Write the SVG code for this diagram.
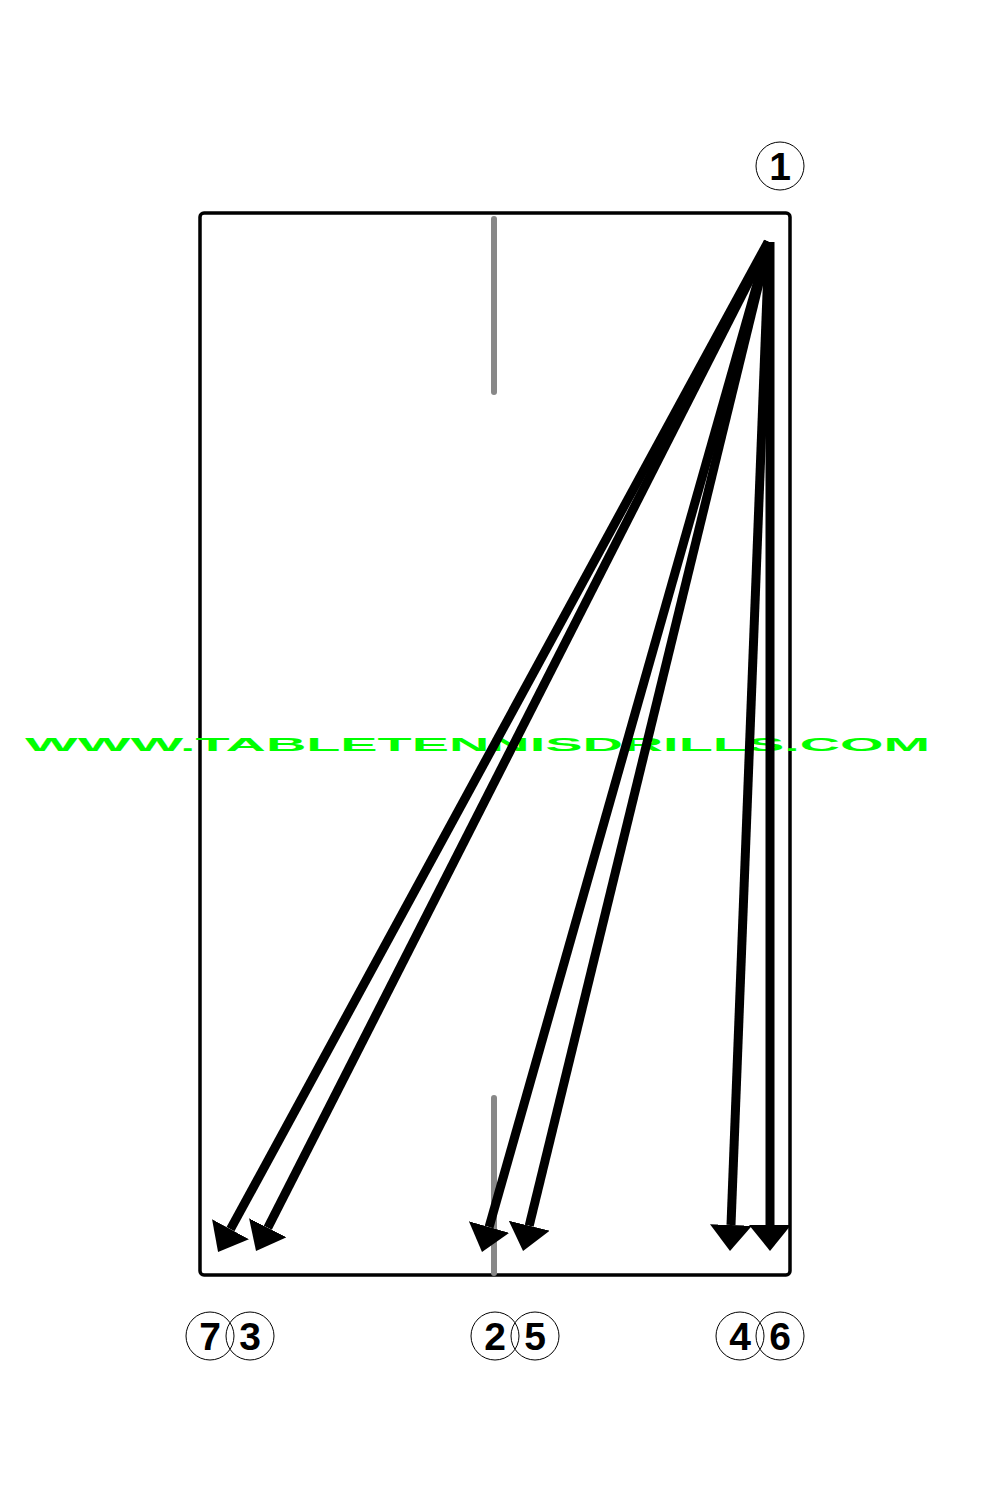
<svg xmlns="http://www.w3.org/2000/svg" width="1000" height="1500" viewBox="0 0 1000 1500">
<style>
.lbl{font-family:"Liberation Sans",Arial,sans-serif;font-size:39px;font-weight:bold;fill:#000;text-anchor:middle}
.ring{fill:none;stroke:#000;stroke-width:1}
.shot{stroke:#000;stroke-width:9;fill:none;marker-end:url(#head)}
.net{stroke:#888;stroke-width:6;stroke-linecap:round}
</style>
<defs>
<marker id="head" viewBox="0 -21 26 42" refX="0" refY="0" markerWidth="26" markerHeight="42" markerUnits="userSpaceOnUse" orient="auto">
<path d="M0,-21 L26,0 L0,21 z" fill="#000"/>
</marker>
</defs>
<rect width="1000" height="1500" fill="#fff"/>
<g id="table">
<rect x="200" y="213" width="590" height="1062" rx="4" fill="none" stroke="#000" stroke-width="3.5"/>
<line class="net" x1="494" y1="219" x2="494" y2="392"/>
<line class="net" x1="494" y1="1098" x2="494" y2="1273"/>
</g>
<g id="watermark">
<text x="25" y="751" textLength="905" lengthAdjust="spacingAndGlyphs" font-family="'Liberation Sans',Arial,sans-serif" font-weight="bold" font-size="18" fill="#00ff00">WWW.TABLETENNISDRILLS.COM</text>
</g>
<g id="connectors">
<line class="shot" x1="768" y1="242" x2="230.5" y2="1229.2"/>
<line class="shot" x1="769" y1="242" x2="267.8" y2="1227.8"/>
<line class="shot" x1="769" y1="242" x2="489.1" y2="1227"/>
<line class="shot" x1="769" y1="242" x2="529.2" y2="1225.7"/>
<line class="shot" x1="769" y1="242" x2="731" y2="1225"/>
<line class="shot" x1="770" y1="242" x2="770" y2="1225"/>
</g>
<g id="n1"><circle class="ring" cx="780" cy="166" r="24"/><text class="lbl" x="780" y="180">1</text></g>
<g id="n7"><circle class="ring" cx="210" cy="1336" r="24"/><text class="lbl" x="210" y="1350">7</text></g>
<g id="n3"><circle class="ring" cx="250" cy="1336" r="24"/><text class="lbl" x="250" y="1350">3</text></g>
<g id="n2"><circle class="ring" cx="495" cy="1336" r="24"/><text class="lbl" x="495" y="1350">2</text></g>
<g id="n5"><circle class="ring" cx="535" cy="1336" r="24"/><text class="lbl" x="535" y="1350">5</text></g>
<g id="n4"><circle class="ring" cx="740" cy="1336" r="24"/><text class="lbl" x="740" y="1350">4</text></g>
<g id="n6"><circle class="ring" cx="780" cy="1336" r="24"/><text class="lbl" x="780" y="1350">6</text></g>
</svg>
